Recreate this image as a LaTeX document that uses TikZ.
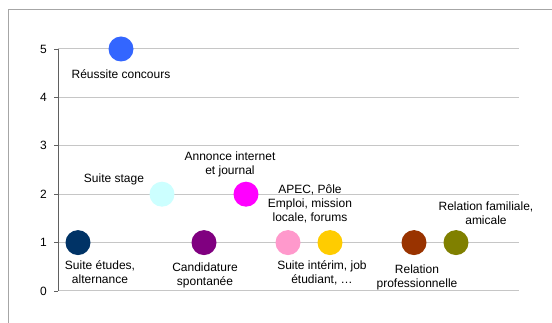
\documentclass[tikz,border=0pt]{standalone}
\usepackage{fontspec}
\setmainfont{Liberation Sans}
\begin{document}
\begin{tikzpicture}[x=1pt,y=-1pt,
  grid/.style={draw=gray!45,line width=1pt},
  axisline/.style={draw=gray!75!black,line width=0.8pt},
  dot/.style={circle,minimum size=25pt,inner sep=0pt},
  lab/.style={font=\fontsize{12}{14}\selectfont,align=center,inner sep=0pt},
  tick/.style={font=\fontsize{12}{14}\selectfont,inner sep=0pt}]
\useasboundingbox (0,0) rectangle (552,323);
\fill[white] (0,0) rectangle (552,323);
\draw[gray!70,line width=1pt] (8,330) -- (8,10) -- (560,10);
% grid
\foreach \v/\yy in {0/291,1/242.6,2/194.2,3/145.8,4/97.4,5/49}{
  \draw[grid] (58,\yy) -- (519,\yy);
  \draw[axisline] (54,\yy) -- (58,\yy);
  \node[tick,anchor=east] (t\v) at (47,\yy) {\v};
}
\draw[axisline] (58,49) -- (58,291);
% dots
\node[dot,fill={rgb,255:red,51;green,102;blue,255}] (p1) at (121,49) {};
\node[dot,fill={rgb,255:red,204;green,255;blue,255}] (p2) at (162,194.2) {};
\node[dot,fill={rgb,255:red,255;green,0;blue,255}] (p3) at (246,194.2) {};
\node[dot,fill={rgb,255:red,0;green,51;blue,102}] (p4) at (78,242.6) {};
\node[dot,fill={rgb,255:red,128;green,0;blue,128}] (p5) at (204,242.6) {};
\node[dot,fill={rgb,255:red,255;green,153;blue,204}] (p6) at (288,242.6) {};
\node[dot,fill={rgb,255:red,255;green,204;blue,0}] (p7) at (330,242.6) {};
\node[dot,fill={rgb,255:red,153;green,51;blue,0}] (p8) at (414,242.6) {};
\node[dot,fill={rgb,255:red,128;green,128;blue,0}] (p9) at (456,242.6) {};
% labels
\node[lab] (l1) at (121,74) {Réussite concours};
\node[lab] (l2) at (114,179) {Suite stage};
\node[lab] (l3) at (230,164) {Annonce internet\\et journal};
\node[lab] (l4) at (310,204) {APEC, Pôle\\Emploi, mission\\locale, forums};
\node[lab] (l5) at (100,272) {Suite études,\\alternance};
\node[lab] (l6) at (205,275) {Candidature\\spontanée};
\node[lab] (l7) at (322,273) {Suite intérim, job\\étudiant, …};
\node[lab] (l8) at (417,277) {Relation\\professionnelle};
\node[lab] (l9) at (486,213) {Relation familiale,\\amicale};
\end{tikzpicture}
\end{document}
